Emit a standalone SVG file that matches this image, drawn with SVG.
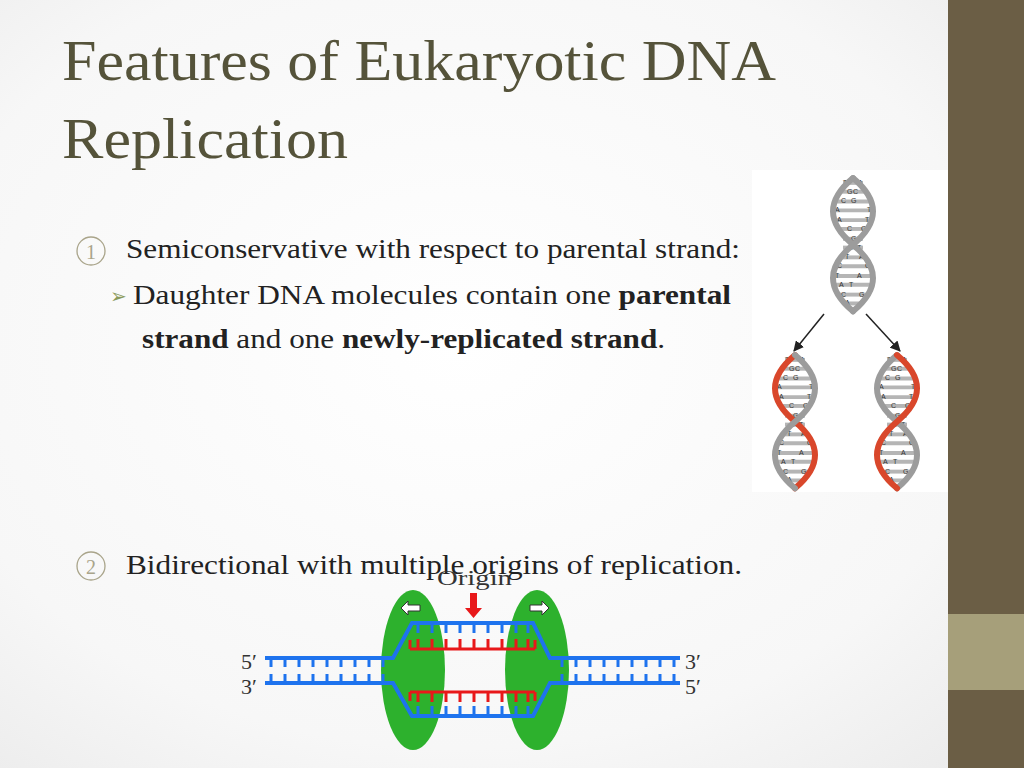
<svg xmlns="http://www.w3.org/2000/svg" width="1024" height="768" viewBox="0 0 1024 768">
<defs>
<radialGradient id="bg" cx="0.45" cy="0.45" r="0.75"><stop offset="0" stop-color="#ffffff"/><stop offset="0.7" stop-color="#f7f7f7"/><stop offset="1" stop-color="#ebebeb"/></radialGradient>
<style>
.t{font-family:"Liberation Serif",serif;fill:#55533a}
.b{font-family:"Liberation Serif",serif;fill:#222;font-size:27px}
.lab{font-family:"Liberation Serif",serif;fill:#333;font-size:22px}
.bs{stroke:#1e73ee;stroke-width:4;fill:none}
.bt{stroke:#1e73ee;stroke-width:3}
.rs{stroke:#e8181a;stroke-width:3;fill:none}
.g{fill:#2db12d}
.rung{stroke:#b5b5b5;stroke-width:4}
.L{font-family:"Liberation Sans",sans-serif;font-size:7px;fill:#333}
.sg{stroke:#9c9c9c;stroke-width:6;fill:none;stroke-linecap:round}
.sr{stroke:#d9472b;stroke-width:6;fill:none;stroke-linecap:round}
</style>
<g id="rungs">
<line class="rung" x1="-10" y1="5" x2="10" y2="5"/><line class="rung" x1="-12" y1="14" x2="12" y2="14"/><line class="rung" x1="-18" y1="24" x2="18" y2="24"/><line class="rung" x1="-20" y1="33" x2="20" y2="33"/><line class="rung" x1="-18" y1="43" x2="18" y2="43"/><line class="rung" x1="-13" y1="52" x2="13" y2="52"/><line class="rung" x1="-10" y1="62" x2="10" y2="62"/><line class="rung" x1="-10" y1="71" x2="10" y2="71"/><line class="rung" x1="-11" y1="81" x2="11" y2="81"/><line class="rung" x1="-17" y1="90" x2="17" y2="90"/><line class="rung" x1="-20" y1="100" x2="20" y2="100"/><line class="rung" x1="-19" y1="109" x2="19" y2="109"/><line class="rung" x1="-14" y1="119" x2="14" y2="119"/><line class="rung" x1="-10" y1="128" x2="10" y2="128"/>
<g class="L">
<text x="-10" y="7">T</text><text x="5" y="7">A</text>
<text x="-6" y="16">G</text><text x="0" y="16">C</text>
<text x="-12" y="26">C</text><text x="-2" y="26">G</text>
<text x="-18" y="35">A</text><text x="14" y="35">T</text>
<text x="-16" y="45">A</text><text x="12" y="45">T</text>
<text x="-6" y="54">C</text><text x="8" y="54">G</text>
<text x="-2" y="64">G</text><text x="4" y="64">C</text>
<text x="-2" y="73">A</text><text x="4" y="73">T</text>
<text x="-8" y="83">T</text><text x="6" y="83">A</text>
<text x="-16" y="92">C</text><text x="12" y="92">G</text>
<text x="-18" y="102">T</text><text x="4" y="102">A</text>
<text x="-14" y="111">A</text><text x="-4" y="111">T</text>
<text x="-12" y="121">C</text><text x="6" y="121">G</text>
<text x="-8" y="130">A</text><text x="8" y="130">T</text>
</g>
</g>
<path id="s1" d="M0,0 Q40,34 0,68 T0,136"/>
<path id="s2" d="M0,0 Q-40,34 0,68 T0,136"/>
<marker id="ah" viewBox="0 0 10 10" refX="9" refY="5" markerWidth="7" markerHeight="7" orient="auto"><path d="M0,0L10,5L0,10z" fill="#222"/></marker>
</defs>
<rect width="1024" height="768" fill="url(#bg)"/>
<rect x="948" y="0" width="76" height="768" fill="#6b5e45"/>
<rect x="948" y="614" width="76" height="76" fill="#a69f7a"/>
<rect x="752" y="170" width="196" height="322" fill="#ffffff"/>

<g id="title">
<text class="t" x="62" y="80" font-size="56" textLength="714" lengthAdjust="spacingAndGlyphs">Features of Eukaryotic DNA</text>
<text class="t" x="62" y="158" font-size="56" textLength="286" lengthAdjust="spacingAndGlyphs">Replication</text>
</g>

<g id="bullet1">
<circle cx="91" cy="251" r="14" fill="none" stroke="#a9a48a" stroke-width="1.3"/>
<text x="91" y="259" text-anchor="middle" font-family="Liberation Serif,serif" font-size="20" fill="#a9a48a">1</text>
<text class="b" x="126" y="258" textLength="614" lengthAdjust="spacingAndGlyphs">Semiconservative with respect to parental strand:</text>
<text x="110" y="303" font-family="DejaVu Sans,sans-serif" font-size="20" fill="#8a9a5b">➢</text>
<text class="b" x="133" y="304" textLength="598" lengthAdjust="spacingAndGlyphs">Daughter DNA molecules contain one <tspan font-weight="bold">parental</tspan></text>
<text class="b" x="142" y="348" textLength="523" lengthAdjust="spacingAndGlyphs"><tspan font-weight="bold">strand</tspan> and one <tspan font-weight="bold">newly-replicated strand</tspan>.</text>
</g>

<g id="helices">
<g transform="translate(853,178) scale(1,0.98)"><use href="#rungs"/><use href="#s2" class="sg"/><use href="#s1" class="sg" stroke="#b8b8b8"/></g>
<g transform="translate(795,355) scale(1,0.98)"><use href="#rungs"/><use href="#s2" class="sr"/><use href="#s1" class="sg"/></g>
<g transform="translate(897,355) scale(1,0.98)"><use href="#rungs"/><use href="#s2" class="sg"/><use href="#s1" class="sr"/></g>
</g>

<g id="connectors">
<line x1="824" y1="314" x2="794" y2="351" stroke="#222" stroke-width="1.5" marker-end="url(#ah)"/>
<line x1="866" y1="314" x2="900" y2="351" stroke="#222" stroke-width="1.5" marker-end="url(#ah)"/>
</g>

<g id="bullet2">
<circle cx="91" cy="566" r="14" fill="none" stroke="#a9a48a" stroke-width="1.3"/>
<text x="91" y="574" text-anchor="middle" font-family="Liberation Serif,serif" font-size="20" fill="#a9a48a">2</text>
<text class="b" x="126" y="574" textLength="616" lengthAdjust="spacingAndGlyphs">Bidirectional with multiple origins of replication.</text>
</g>

<g id="bubble">
<ellipse class="g" cx="413" cy="670" rx="32" ry="80"/>
<ellipse class="g" cx="537" cy="670" rx="32" ry="80"/>
<path d="M265,658 H393 L412,623 H533 L550,658 H680" class="bs"/>
<path d="M265,683 H393 L412,716 H533 L550,683 H680" class="bs"/>
<path d="M410,649 V640 M535,649 V640 M410,649 H535" class="rs"/>
<path d="M410,692 V701 M535,692 V701 M410,692 H535" class="rs"/>
<g class="bt">
<path d="M271,658v9M285,658v9M299,658v9M313,658v9M327,658v9M341,658v9M355,658v9M369,658v9M383,658v9"/>
<path d="M271,683v-9M285,683v-9M299,683v-9M313,683v-9M327,683v-9M341,683v-9M355,683v-9M369,683v-9M383,683v-9"/>
<path d="M562,658v9M576,658v9M590,658v9M604,658v9M618,658v9M632,658v9M646,658v9M660,658v9M674,658v9"/>
<path d="M562,683v-9M576,683v-9M590,683v-9M604,683v-9M618,683v-9M632,683v-9M646,683v-9M660,683v-9M674,683v-9"/>
<path d="M418,623v10M432,623v10M446,623v10M460,623v10M474,623v10M488,623v10M502,623v10M516,623v10M528,623v10"/>
<path d="M418,716v-10M432,716v-10M446,716v-10M460,716v-10M474,716v-10M488,716v-10M502,716v-10M516,716v-10M528,716v-10"/>
</g>
<g stroke="#e8181a" stroke-width="3">
<path d="M418,649v-10M432,649v-10M446,649v-10M460,649v-10M474,649v-10M488,649v-10M502,649v-10M516,649v-10M528,649v-10"/>
<path d="M418,692v10M432,692v10M446,692v10M460,692v10M474,692v10M488,692v10M502,692v10M516,692v10M528,692v10"/>
</g>
<path d="M470,593h7v15h5l-8.5,10l-8.5,-10h5z" fill="#e8181a"/>
<path d="M401,608l7,-7v4h12v6h-12v4z" fill="#fff" stroke="#333" stroke-width="1"/>
<path d="M549,608l-7,-7v4h-12v6h12v4z" fill="#fff" stroke="#333" stroke-width="1"/>
<text class="lab" x="437" y="585" fill="#444" font-size="23" textLength="75" lengthAdjust="spacingAndGlyphs">Origin</text>
<text class="lab" x="241" y="669">5′</text>
<text class="lab" x="241" y="694">3′</text>
<text class="lab" x="685" y="669">3′</text>
<text class="lab" x="685" y="694">5′</text>
</g>
</svg>
